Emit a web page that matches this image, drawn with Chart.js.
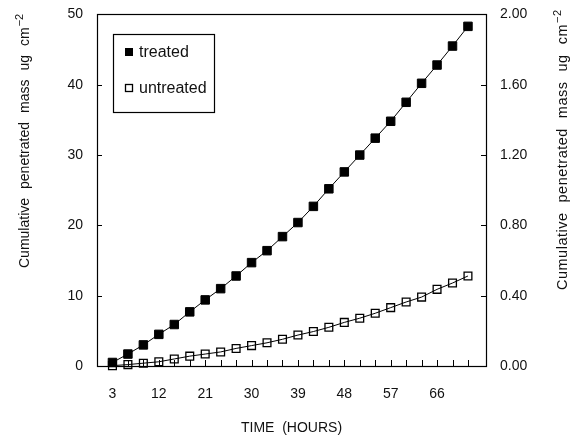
<!DOCTYPE html>
<html>
<head>
    <style>
        body {
            margin: 0;
            padding: 0;
            background: #fff;
        }

        .container {
            width: 578px;
            height: 437px;
        }
    </style>
    <title>Cumulative penetrated mass</title>
    <script src="https://cdn.jsdelivr.net/npm/chart.js@4.4.1/dist/chart.umd.min.js"></script>
</head>
<body>
    <div class="container">
        <canvas id="chart" width="578" height="437"></canvas>
    </div>

  <script>
    // time points (hours)
    const hours = [3, 6, 9, 12, 15, 18, 21, 24, 27, 30, 33, 36, 39, 42, 45, 48, 51, 54, 57, 60, 63, 66, 69, 72];
    // treated, left axis (ug cm-2)
    const treated = [0.5, 1.7, 3.0, 4.5, 5.9, 7.7, 9.4, 11.0, 12.8, 14.7, 16.4, 18.4, 20.4, 22.7, 25.2, 27.6, 30.0, 32.4, 34.8, 37.5, 40.2, 42.8, 45.5, 48.3];
    // untreated, right axis (ug cm-2)
    const untreated = [0.002, 0.008, 0.016, 0.024, 0.040, 0.056, 0.068, 0.080, 0.100, 0.116, 0.132, 0.152, 0.176, 0.196, 0.220, 0.248, 0.272, 0.300, 0.332, 0.364, 0.392, 0.436, 0.472, 0.512];

    const xTicks = [3, 6, 9, 12, 15, 18, 21, 24, 27, 30, 33, 36, 39, 42, 45, 48, 51, 54, 57, 60, 63, 66, 69, 72];
    const xTickLabels = [3, 12, 21, 30, 39, 48, 57, 66];
    const yLeftTicks = [0, 10, 20, 30, 40, 50];
    const yRightTicks = [0, 0.4, 0.8, 1.2, 1.6, 2.0];

    const FONT = "'Liberation Sans', Arial, sans-serif";
    const INK = '#111';

    // frame, inward tick marks, axis titles and the boxed legend
    const decorations = {
      id: 'decorations',
      afterDraw(chart) {
        const ctx = chart.ctx;
        const area = chart.chartArea;
        const x = chart.scales.x, y = chart.scales.y, y1 = chart.scales.y1;
        ctx.save();
        ctx.strokeStyle = '#000';
        ctx.lineWidth = 1.2;
        ctx.strokeRect(Math.round(area.left) + 0.5, Math.round(area.top) + 0.5,
                       Math.round(area.right - area.left), Math.round(area.bottom - area.top));

        ctx.lineWidth = 1;
        ctx.beginPath();
        xTicks.forEach(v => {
          const px = Math.round(x.getPixelForValue(v)) + 0.5;
          ctx.moveTo(px, area.bottom);
          ctx.lineTo(px, area.bottom - 6);
        });
        yLeftTicks.forEach(v => {
          const py = Math.round(y.getPixelForValue(v)) + 0.5;
          ctx.moveTo(area.left, py);
          ctx.lineTo(area.left + 5, py);
        });
        yRightTicks.forEach(v => {
          const py = Math.round(y1.getPixelForValue(v)) + 0.5;
          ctx.moveTo(area.right, py);
          ctx.lineTo(area.right - 5, py);
        });
        ctx.stroke();

        // x title
        ctx.fillStyle = INK;
        ctx.font = '14px ' + FONT;
        ctx.textAlign = 'center';
        ctx.textBaseline = 'middle';
        ctx.fillText('TIME  (HOURS)', (area.left + area.right) / 2, 428);

        // vertical titles
        drawVerticalTitle(ctx, 25, 268, 14, 9, '0px');
        drawVerticalTitle(ctx, 563, 290, 14.5, 10, '0.5px');

        // legend
        ctx.strokeStyle = '#000';
        ctx.lineWidth = 1.2;
        ctx.strokeRect(113.5, 34.5, 101, 78);
        ctx.fillStyle = '#000';
        ctx.fillRect(125, 48, 8, 8);
        ctx.lineWidth = 1.3;
        ctx.strokeRect(125.5, 84.5, 7, 7);
        ctx.fillStyle = INK;
        ctx.font = '16px ' + FONT;
        ctx.textAlign = 'left';
        ctx.fillText('treated', 139, 53);
        ctx.fillText('untreated', 139, 89);
        ctx.restore();
      }
    };

    function drawVerticalTitle(ctx, cx, bottom, size, gap, spacing) {
      const words = ['Cumulative', 'penetrated', 'mass', 'ug', 'cm'];
      ctx.save();
      ctx.translate(cx, bottom);
      ctx.rotate(-Math.PI / 2);
      ctx.fillStyle = INK;
      ctx.font = size + 'px ' + FONT;
      ctx.letterSpacing = spacing;
      ctx.textAlign = 'left';
      ctx.textBaseline = 'middle';
      let pos = 0;
      words.forEach(w => {
        ctx.fillText(w, pos, 0);
        pos += ctx.measureText(w).width + gap;
      });
      ctx.font = '11px ' + FONT;
      ctx.fillText('\u22122', pos - gap + 1, -5);
      ctx.restore();
    }

    const ctx = document.getElementById('chart').getContext('2d');
    new Chart(ctx, {
      type: 'line',
      data: {
        datasets: [{
          label: 'treated',
          data: hours.map((h, i) => ({ x: h, y: treated[i] })),
          yAxisID: 'y',
          borderColor: '#000',
          borderWidth: 1,
          pointStyle: 'rect',
          pointRadius: 6,
          pointBackgroundColor: '#000',
          pointBorderColor: '#000',
          pointBorderWidth: 1,
          tension: 0,
          clip: false
        }, {
          label: 'untreated',
          data: hours.map((h, i) => ({ x: h, y: untreated[i] })),
          yAxisID: 'y1',
          borderColor: '#000',
          borderWidth: 1,
          pointStyle: 'rect',
          pointRadius: 5.5,
          pointBackgroundColor: 'rgba(0,0,0,0)',
          pointBorderColor: '#000',
          pointBorderWidth: 1.3,
          tension: 0,
          clip: false
        }]
      },
      options: {
        responsive: false,
        animation: false,
        devicePixelRatio: 1,
        layout: { padding: { top: 14, left: 0, right: 0, bottom: 0 } },
        plugins: {
          legend: { display: false },
          tooltip: { enabled: false }
        },
        scales: {
          x: {
            type: 'linear',
            min: 0,
            max: 75.5,
            grid: { display: false },
            border: { display: false },
            afterBuildTicks: scale => { scale.ticks = xTicks.map(v => ({ value: v })); },
            afterFit: scale => { scale.height = 71; },
            ticks: {
              autoSkip: false,
              maxRotation: 0,
              padding: 12,
              color: INK,
              font: { family: FONT, size: 14 },
              callback: v => xTickLabels.includes(v) ? String(v) : ''
            }
          },
          y: {
            position: 'left',
            min: 0,
            max: 50,
            grid: { display: false },
            border: { display: false },
            afterBuildTicks: scale => { scale.ticks = yLeftTicks.map(v => ({ value: v })); },
            afterFit: scale => { scale.width = 97; },
            ticks: {
              padding: 6,
              color: INK,
              font: { family: FONT, size: 14 }
            }
          },
          y1: {
            position: 'right',
            min: 0,
            max: 2,
            grid: { display: false },
            border: { display: false },
            afterBuildTicks: scale => { scale.ticks = yRightTicks.map(v => ({ value: v })); },
            afterFit: scale => { scale.width = 92; },
            ticks: {
              padding: 6,
              color: INK,
              font: { family: FONT, size: 14 },
              callback: v => Number(v).toFixed(2)
            }
          }
        }
      },
      plugins: [decorations]
    });
  </script>
</body>
</html>
